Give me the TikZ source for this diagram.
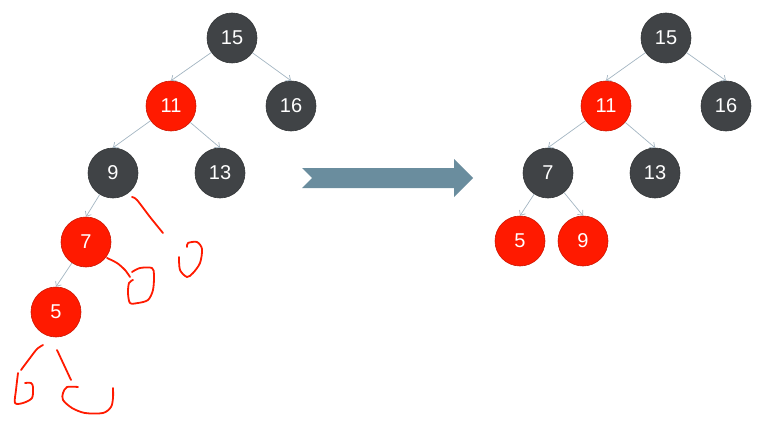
\documentclass[tikz,border=0pt]{standalone}
\usepackage{fontspec}
\setmainfont{Liberation Sans}
\usetikzlibrary{arrows.meta}
\definecolor{rbblack}{HTML}{404346}
\definecolor{rbred}{HTML}{FF1A00}
\definecolor{edgecol}{HTML}{A3B5C2}
\definecolor{arrowcol}{HTML}{6A8D9E}
\definecolor{scribred}{HTML}{FF1A00}
\tikzset{
  rbnode/.style={circle, minimum size=50pt, inner sep=0pt, text=white, font=\fontsize{20}{22}\selectfont, draw=#1!80!black, line width=0.6pt, fill=#1},
  blk/.style={rbnode=rbblack},
  rd/.style={rbnode=rbred},
  edge/.style={draw=edgecol, line width=0.7pt, -{Straight Barb[length=4pt,width=7pt]}},
  scrib/.style={draw=scribred, line width=1.8pt, line cap=round, line join=round},
  bigarrow/.style={fill=arrowcol, draw=none}
}
\begin{document}
\begin{tikzpicture}[x=1pt,y=-1pt]
\useasboundingbox (0,0) rectangle (762,425);
% left tree
\node[blk] (a15) at (232,38) {15};
\node[rd]  (a11) at (171,106) {11};
\node[blk] (a16) at (291,106) {16};
\node[blk] (a9)  at (113,173) {9};
\node[blk] (a13) at (220,173) {13};
\node[rd]  (a7)  at (86,242) {7};
\node[rd]  (a5)  at (56,312) {5};
\draw[edge] (a15) -- (a11.north);
\draw[edge] (a15) -- (a16.north);
\draw[edge] (a11) -- (a9.north);
\draw[edge] (a11) -- (a13.north);
\draw[edge] (a9) -- (a7.north);
\draw[edge] (a7) -- (a5.north);
% scribbles
\draw[scrib] plot[smooth] coordinates {(132,197) (137,200) (150,217) (163,233)};
\draw[scrib] plot[smooth] coordinates {(187,247) (188,243) (197,242) (202,249) (200,263) (193,273) (187,277) (180,270) (179,257)};
\draw[scrib] plot[smooth] coordinates {(107,258) (117,263) (125,270) (130,277)};
\draw[scrib] plot[smooth] coordinates {(132,272) (140,268) (152,268) (154,275) (153,290) (148,300) (138,303) (130,303) (128,293) (129,283) (133,280)};
\draw[scrib] plot[smooth] coordinates {(43,345) (37,349) (30,358) (21,370)};
\draw[scrib] plot[smooth] coordinates {(18,373) (16,390) (15,403) (23,403) (32,398) (33,387) (31,383) (25,383)};
\draw[scrib] plot[smooth] coordinates {(57,350) (64,365) (71,380)};
\draw[scrib] plot[smooth] coordinates {(78,387) (67,387) (63,393) (63,400) (72,408) (85,413) (103,413) (111,407) (113,398) (113,388)};
% big arrow
\fill[bigarrow] (302,168) -- (454,168) -- (454,159) -- (473,178) -- (454,197) -- (454,188) -- (302,188) -- (312,178) -- cycle;
% right tree
\node[blk] (b15) at (666,38) {15};
\node[rd]  (b11) at (606,106) {11};
\node[blk] (b16) at (726,106) {16};
\node[blk] (b7)  at (548,173) {7};
\node[blk] (b13) at (655,173) {13};
\node[rd]  (b5)  at (520,241) {5};
\node[rd]  (b9)  at (583,241) {9};
\draw[edge] (b15) -- (b11.north);
\draw[edge] (b15) -- (b16.north);
\draw[edge] (b11) -- (b7.north);
\draw[edge] (b11) -- (b13.north);
\draw[edge] (b7) -- (b5.north);
\draw[edge] (b7) -- (b9.north);
\end{tikzpicture}
\end{document}
